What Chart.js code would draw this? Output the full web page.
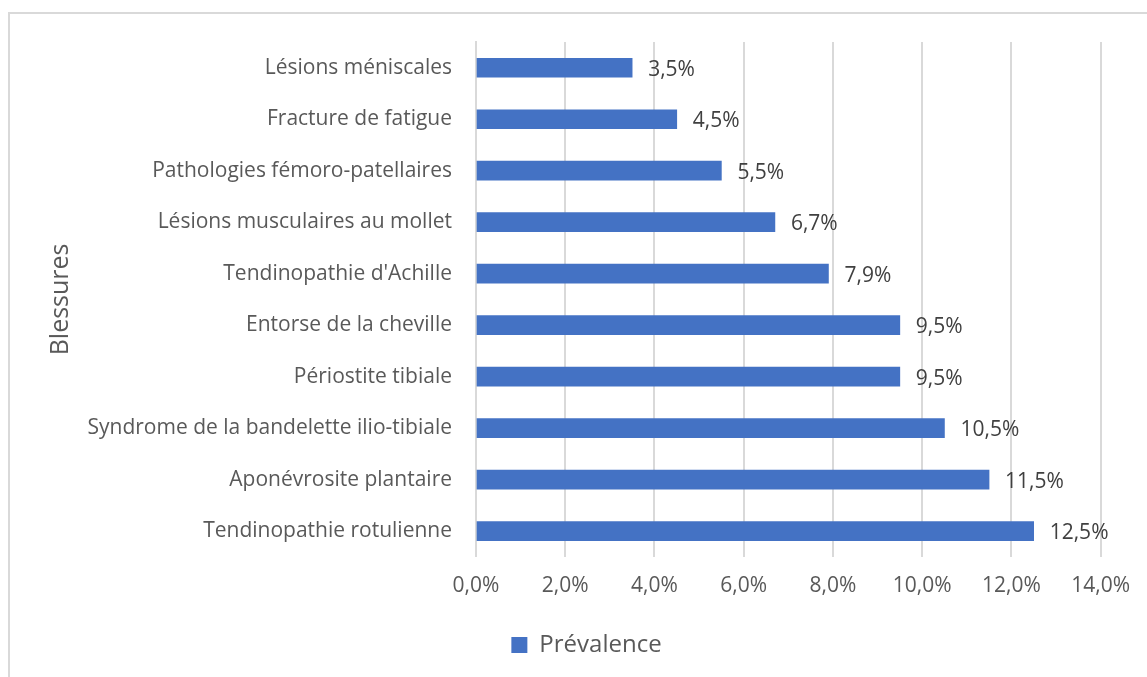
<!DOCTYPE html>
<html>
<head>
<meta charset="utf-8">
<script src="https://cdn.jsdelivr.net/npm/chart.js@4"></script>
<style>
  html, body { margin: 0; padding: 0; background: #fff; overflow: hidden; }
  #frame {
    position: absolute; left: 8px; top: 12px; width: 1200px; height: 700px;
    border-top: 2px solid #d9d9d9; border-left: 2px solid #d9d9d9;
  }
  #wrap { position: absolute; left: 0; top: 0; width: 1147px; height: 677px; }
</style>
</head>
<body>
<div id="frame"></div>
<div id="wrap"><canvas id="chart"></canvas></div>
<script>
// categories, top to bottom as shown
const injuries = [
  'Lésions méniscales',
  'Fracture de fatigue',
  'Pathologies fémoro-patellaires',
  'Lésions musculaires au mollet',
  "Tendinopathie d'Achille",
  'Entorse de la cheville',
  'Périostite tibiale',
  'Syndrome de la bandelette ilio-tibiale',
  'Aponévrosite plantaire',
  'Tendinopathie rotulienne'
];
const prevalence = [3.5, 4.5, 5.5, 6.7, 7.9, 9.5, 9.5, 10.5, 11.5, 12.5];
const xTicks = [0, 2, 4, 6, 8, 10, 12, 14];

const FONT = '"Open Sans", "Liberation Sans", sans-serif';
const TEXT = '#595959';

function pct(v) {
  return v.toFixed(1).replace('.', ',') + '%';
}

// draws the value after the end of each bar
const valueLabels = {
  id: 'valueLabels',
  afterDatasetsDraw(chart) {
    const ctx = chart.ctx;
    const meta = chart.getDatasetMeta(0);
    ctx.save();
    ctx.font = '21px ' + FONT;
    ctx.fillStyle = '#404040';
    ctx.textAlign = 'left';
    ctx.textBaseline = 'middle';
    meta.data.forEach(function (bar, i) {
      ctx.fillText(pct(prevalence[i]), bar.x + 16, bar.y + 2);
    });
    ctx.restore();
  }
};

// nudge the legend so it sits where the original has it
const legendShift = {
  id: 'legendShift',
  afterLayout(chart) {
    const lg = chart.legend;
    if (!lg) return;
    lg.left += 36;
    lg.right += 36;
  }
};

const ctx = document.getElementById('chart').getContext('2d');
new Chart(ctx, {
  type: 'bar',
  data: {
    labels: injuries,
    datasets: [{
      label: 'Prévalence',
      data: prevalence,
      backgroundColor: '#4472c4',
      borderWidth: 0,
      barThickness: 19
    }]
  },
  options: {
    indexAxis: 'y',
    responsive: true,
    maintainAspectRatio: false,
    animation: false,
    layout: { padding: { top: 42, right: 46, left: 0, bottom: 10 } },
    scales: {
      x: {
        min: 0,
        max: 14,
        afterBuildTicks: function (scale) {
          scale.ticks = xTicks.map(function (v) { return { value: v }; });
        },
        grid: { color: '#d9d9d9', lineWidth: 2, drawTicks: false },
        border: { display: false },
        ticks: {
          padding: 17,
          color: TEXT,
          font: { family: FONT, size: 21 },
          callback: function (v) { return pct(v); }
        }
      },
      y: {
        afterFit: function (scale) { scale.width = 476; },
        grid: { display: false, drawTicks: false },
        border: { color: '#d9d9d9', width: 2 },
        ticks: {
          padding: 24,
          color: TEXT,
          font: { family: FONT, size: 21 }
        },
        title: {
          display: true,
          text: 'Blessures',
          color: TEXT,
          font: { family: FONT, size: 25 },
          padding: { top: 46, bottom: 0 }
        }
      }
    },
    plugins: {
      legend: {
        position: 'bottom',
        labels: {
          color: TEXT,
          font: { family: FONT, size: 24 },
          boxWidth: 16,
          boxHeight: 16,
          padding: 17
        }
      },
      tooltip: { enabled: false }
    }
  },
  plugins: [valueLabels, legendShift]
});
</script>
</body>
</html>
